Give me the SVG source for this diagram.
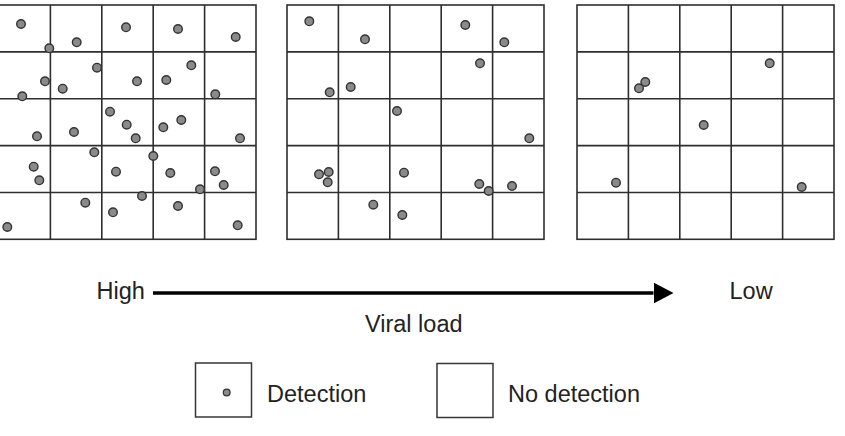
<svg xmlns="http://www.w3.org/2000/svg" xmlns:xlink="http://www.w3.org/1999/xlink" width="845" height="436" viewBox="0 0 845 436">
<style>
.grid{fill:none;stroke:#2e2e2e;stroke-width:1.6}
.dot{fill:#8a8a8a;stroke:#333;stroke-width:1.4}
.lbl{font-family:"Liberation Sans",Arial,sans-serif;font-size:23.5px;fill:#222}
.box{fill:#fff;stroke:#363636;stroke-width:1.5}
</style>
<defs>
<g id="gridShape">
<rect class="grid" x="0" y="0" width="257" height="234.3"/>
<path class="grid" d="M51.4 0V234.3M102.8 0V234.3M154.2 0V234.3M205.6 0V234.3M0 46.86H257M0 93.72H257M0 140.58H257M0 187.44H257"/>
</g>
<marker id="arrowHead" markerWidth="20" markerHeight="21" refX="0" refY="10.5" orient="auto" markerUnits="userSpaceOnUse">
<path d="M0 0L20 10.5L0 21Z" fill="#000"/>
</marker>
</defs>
<rect width="845" height="436" fill="#fff"/>

<g id="grid-high">
<use xlink:href="#gridShape" href="#gridShape" x="-1" y="5"/>
<circle class="dot" cx="21" cy="24" r="4.3"/>
<circle class="dot" cx="49.3" cy="48.3" r="4.3"/>
<circle class="dot" cx="76.7" cy="42.3" r="4.3"/>
<circle class="dot" cx="126" cy="27.3" r="4.3"/>
<circle class="dot" cx="178" cy="29" r="4.3"/>
<circle class="dot" cx="235.7" cy="37" r="4.3"/>
<circle class="dot" cx="97" cy="67.7" r="4.3"/>
<circle class="dot" cx="45" cy="81.3" r="4.3"/>
<circle class="dot" cx="62.7" cy="88.7" r="4.3"/>
<circle class="dot" cx="22.3" cy="96.3" r="4.3"/>
<circle class="dot" cx="137" cy="81.3" r="4.3"/>
<circle class="dot" cx="166.3" cy="80" r="4.3"/>
<circle class="dot" cx="191.3" cy="65.3" r="4.3"/>
<circle class="dot" cx="215.3" cy="94.3" r="4.3"/>
<circle class="dot" cx="110" cy="111.7" r="4.3"/>
<circle class="dot" cx="126.7" cy="124.7" r="4.3"/>
<circle class="dot" cx="135.7" cy="138.3" r="4.3"/>
<circle class="dot" cx="163.3" cy="127.3" r="4.3"/>
<circle class="dot" cx="181.3" cy="120" r="4.3"/>
<circle class="dot" cx="240" cy="138.3" r="4.3"/>
<circle class="dot" cx="37" cy="136.3" r="4.3"/>
<circle class="dot" cx="74" cy="132" r="4.3"/>
<circle class="dot" cx="94.3" cy="152.3" r="4.3"/>
<circle class="dot" cx="33.7" cy="166.7" r="4.3"/>
<circle class="dot" cx="39.3" cy="180.3" r="4.3"/>
<circle class="dot" cx="116" cy="171.7" r="4.3"/>
<circle class="dot" cx="153.3" cy="156" r="4.3"/>
<circle class="dot" cx="170.3" cy="173" r="4.3"/>
<circle class="dot" cx="215" cy="171.3" r="4.3"/>
<circle class="dot" cx="223.7" cy="185" r="4.3"/>
<circle class="dot" cx="200" cy="189.3" r="4.3"/>
<circle class="dot" cx="142" cy="196" r="4.3"/>
<circle class="dot" cx="85.3" cy="202.7" r="4.3"/>
<circle class="dot" cx="113" cy="212.3" r="4.3"/>
<circle class="dot" cx="178" cy="206" r="4.3"/>
<circle class="dot" cx="7.3" cy="227" r="4.3"/>
<circle class="dot" cx="237.7" cy="225.3" r="4.3"/>
</g>

<g id="grid-medium">
<use xlink:href="#gridShape" href="#gridShape" x="287" y="5"/>
<circle class="dot" cx="309.3" cy="21.3" r="4.3"/>
<circle class="dot" cx="365" cy="39.3" r="4.3"/>
<circle class="dot" cx="465.3" cy="25" r="4.3"/>
<circle class="dot" cx="504.3" cy="42.3" r="4.3"/>
<circle class="dot" cx="480" cy="63.3" r="4.3"/>
<circle class="dot" cx="350.7" cy="87" r="4.3"/>
<circle class="dot" cx="329.7" cy="92.3" r="4.3"/>
<circle class="dot" cx="397" cy="111" r="4.3"/>
<circle class="dot" cx="529.3" cy="138.3" r="4.3"/>
<circle class="dot" cx="319" cy="174.3" r="4.3"/>
<circle class="dot" cx="328.7" cy="172" r="4.3"/>
<circle class="dot" cx="327.7" cy="182.3" r="4.3"/>
<circle class="dot" cx="404" cy="172.7" r="4.3"/>
<circle class="dot" cx="479.3" cy="184" r="4.3"/>
<circle class="dot" cx="488.7" cy="191" r="4.3"/>
<circle class="dot" cx="512" cy="186" r="4.3"/>
<circle class="dot" cx="373.3" cy="204.7" r="4.3"/>
<circle class="dot" cx="402.3" cy="215" r="4.3"/>
</g>

<g id="grid-low">
<use xlink:href="#gridShape" href="#gridShape" x="577" y="5"/>
<circle class="dot" cx="769.7" cy="63.3" r="4.3"/>
<circle class="dot" cx="645.3" cy="82" r="4.3"/>
<circle class="dot" cx="639" cy="88.3" r="4.3"/>
<circle class="dot" cx="703.7" cy="125" r="4.3"/>
<circle class="dot" cx="616" cy="182.7" r="4.3"/>
<circle class="dot" cx="801.7" cy="187" r="4.3"/>
</g>

<g id="connectors">
<line x1="153" y1="293" x2="653.5" y2="293" stroke="#000" stroke-width="3.3" marker-end="url(#arrowHead)"/>
</g>

<g id="label-high"><text class="lbl" x="96.5" y="298.5">High</text></g>
<g id="label-low"><text class="lbl" x="729.5" y="298.5">Low</text></g>
<g id="label-viral-load"><text class="lbl" x="365" y="331.5">Viral load</text></g>

<g id="legend-detection">
<rect class="box" x="195.5" y="363" width="56" height="54"/>
<circle cx="226.7" cy="392.5" r="3.4" fill="#8a8a8a" stroke="#333" stroke-width="1.2"/>
<text class="lbl" x="267" y="401.5">Detection</text>
</g>

<g id="legend-no-detection">
<rect class="box" x="437" y="363.5" width="56" height="54"/>
<text class="lbl" x="508" y="401.5">No detection</text>
</g>
</svg>
